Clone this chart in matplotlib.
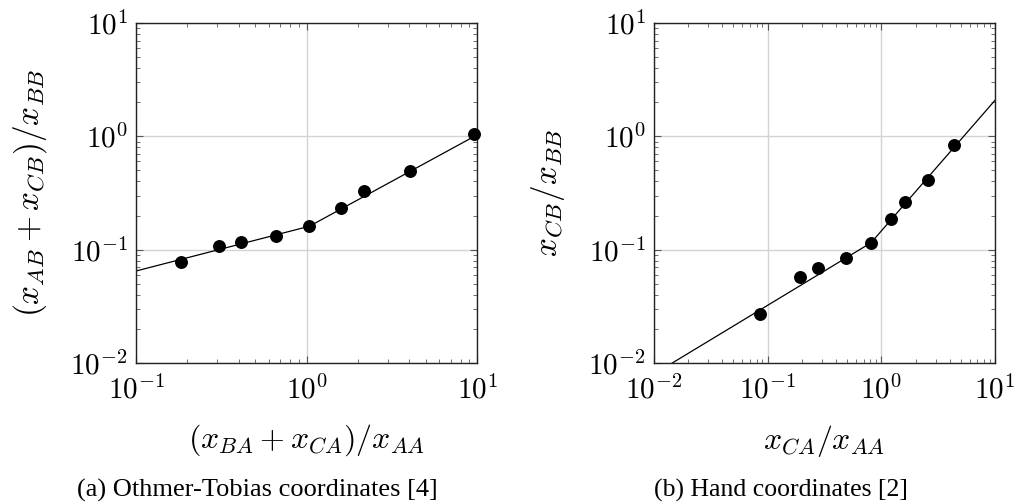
import matplotlib
matplotlib.use('Agg')
import matplotlib.pyplot as plt
from matplotlib.ticker import FuncFormatter
import numpy as np

plt.rcParams['mathtext.fontset'] = 'cm'
plt.rcParams['font.family'] = 'Liberation Serif'

# Othmer-Tobias data
ot_x = [0.184, 0.307, 0.411, 0.660, 1.037, 1.598, 2.18, 4.02, 9.6]
ot_y = [0.0773, 0.107, 0.118, 0.133, 0.161, 0.235, 0.330, 0.498, 1.04]
ot_fit_x = [0.1, 1.04, 10.0]
ot_fit_y = [0.0648, 0.161, 1.03]

# Hand data
hd_x = [0.0863, 0.194, 0.279, 0.492, 0.811, 1.216, 1.614, 2.59, 4.33]
hd_y = [0.0269, 0.0574, 0.0689, 0.085, 0.115, 0.185, 0.265, 0.409, 0.844]
hd_fit_x = [0.01449, 0.811, 10.0]
hd_fit_y = [0.01, 0.115, 2.08]

fig = plt.figure(figsize=(10.19, 5.04), dpi=100)
ax1 = fig.add_axes([0.1335, 0.2798, 0.3347, 0.6746])
ax2 = fig.add_axes([0.6418, 0.2798, 0.3347, 0.6746])

fmt = FuncFormatter(lambda v, p: r'$10^{%d}$' % int(round(np.log10(v))))


def style(ax, xlim):
    ax.set_xscale('log')
    ax.set_yscale('log')
    ax.set_xlim(*xlim)
    ax.set_ylim(1e-2, 1e1)
    ax.xaxis.set_major_formatter(fmt)
    ax.yaxis.set_major_formatter(fmt)
    ax.grid(True, which='major', color='#d3d3d3', linewidth=1.0)
    ax.set_axisbelow(True)
    ax.tick_params(which='both', direction='in', top=True, right=True,
                   labelsize=21, color='#555555')
    ax.tick_params(which='major', length=5, width=0.8, pad=6)
    ax.tick_params(axis='x', which='major', pad=9)
    ax.tick_params(which='minor', length=3, width=0.6)
    for s in ax.spines.values():
        s.set_linewidth(1.0)
        s.set_color('#222222')


style(ax1, (0.1, 10))
ax1.plot(ot_fit_x, ot_fit_y, color='black', linewidth=0.9)
ax1.plot(ot_x, ot_y, 'o', color='black', markersize=8.3, clip_on=False, zorder=5)
ax1.set_xlabel(r'$(x_{BA}+x_{CA})/x_{AA}$', fontsize=23, labelpad=13)
ax1.set_ylabel(r'$(x_{AB}+x_{CB})/x_{BB}$', fontsize=24, labelpad=15)

style(ax2, (0.01, 10))
ax2.plot(hd_fit_x, hd_fit_y, color='black', linewidth=0.9)
ax2.plot(hd_x, hd_y, 'o', color='black', markersize=8.3, clip_on=False, zorder=5)
ax2.set_xlabel(r'$x_{CA}/x_{AA}$', fontsize=23, labelpad=13)
ax2.set_ylabel(r'$x_{CB}/x_{BB}$', fontsize=24, labelpad=15)

fig.text(0.2527, 0.014, '(a) Othmer-Tobias coordinates [4]', ha='center', fontsize=19)
fig.text(0.7665, 0.014, '(b) Hand coordinates [2]', ha='center', fontsize=18.5)

fig.savefig('out.png', dpi=100)
